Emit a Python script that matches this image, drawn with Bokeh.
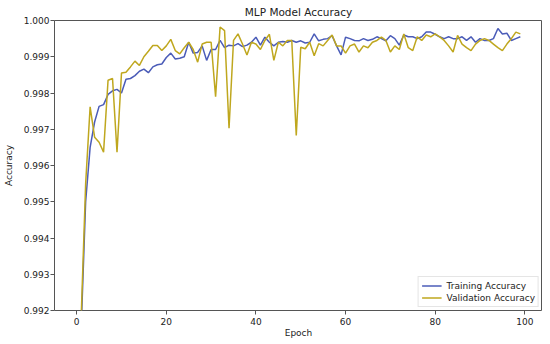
from bokeh.plotting import figure
from bokeh.models import Range1d, FixedTicker, NumeralTickFormatter, Legend, LegendItem
from bokeh.embed import file_html
from bokeh.resources import INLINE

epochs = list(range(100))

train_acc = [
    0.9850, 0.9915, 0.9950, 0.9965, 0.9972, 0.99763, 0.99768, 0.99796, 0.99806, 0.99810,
    0.99800, 0.99838, 0.99840, 0.99848, 0.99860, 0.99866, 0.99856, 0.99872, 0.99878, 0.99880,
    0.99898, 0.99910, 0.99894, 0.99896, 0.99900, 0.99940, 0.99910, 0.99912, 0.99930, 0.99890,
    0.99920, 0.99920, 0.99945, 0.99925, 0.99932, 0.99930, 0.99936, 0.99928, 0.99932, 0.99940,
    0.99954, 0.99932, 0.99954, 0.99940, 0.99930, 0.99940, 0.99942, 0.99940, 0.99945, 0.99940,
    0.99944, 0.99938, 0.99940, 0.99963, 0.99944, 0.99948, 0.99950, 0.99958, 0.99930, 0.99905,
    0.99954, 0.99950, 0.99945, 0.99944, 0.99950, 0.99945, 0.99948, 0.99955, 0.99950, 0.99944,
    0.99958, 0.99950, 0.99932, 0.99960, 0.99955, 0.99955, 0.99950, 0.99955, 0.99968, 0.99968,
    0.99962, 0.99955, 0.99950, 0.99955, 0.99950, 0.99950, 0.99955, 0.99945, 0.99955, 0.99940,
    0.99950, 0.99945, 0.99945, 0.99950, 0.99978, 0.99963, 0.99965, 0.99945, 0.99950, 0.99955,
]

val_acc = [
    0.9840, 0.9918, 0.9955, 0.99762, 0.99678, 0.99664, 0.99637, 0.99835, 0.99840, 0.99637,
    0.99855, 0.99857, 0.99872, 0.99888, 0.99876, 0.99900, 0.99915, 0.99931, 0.99931, 0.99917,
    0.99930, 0.99948, 0.99917, 0.99908, 0.99925, 0.99940, 0.99920, 0.99885, 0.99935, 0.99940,
    0.99940, 0.99790, 0.99982, 0.99972, 0.99703, 0.99945, 0.99963, 0.99935, 0.99905, 0.99940,
    0.99935, 0.99920, 0.99945, 0.99962, 0.99890, 0.99940, 0.99930, 0.99945, 0.99945, 0.99683,
    0.99926, 0.99922, 0.99940, 0.99903, 0.99936, 0.99930, 0.99945, 0.99960, 0.99930, 0.99930,
    0.99910, 0.99930, 0.99935, 0.99913, 0.99930, 0.99925, 0.99940, 0.99945, 0.99954, 0.99945,
    0.99913, 0.99930, 0.99920, 0.99963, 0.99925, 0.99917, 0.99955, 0.99945, 0.99960, 0.99955,
    0.99963, 0.99955, 0.99945, 0.99930, 0.99913, 0.99959, 0.99935, 0.99925, 0.99917, 0.99935,
    0.99945, 0.99950, 0.99945, 0.99935, 0.99925, 0.99917, 0.99935, 0.99950, 0.99968, 0.99963,
]

x_ticks = [0, 20, 40, 60, 80, 100]
y_ticks = [0.992, 0.993, 0.994, 0.995, 0.996, 0.997, 0.998, 0.999, 1.000]

FONT = "DejaVu Sans"
AXC = "#555555"

p = figure(frame_width=488, frame_height=290, output_backend="svg", toolbar_location=None,
           x_range=Range1d(-4.95, 103.95), y_range=Range1d(0.992, 1.000),
           min_border_left=53, min_border_right=0, min_border_top=12, min_border_bottom=0,
           title="MLP Model Accuracy")

p.title.text_font = FONT
p.title.text_font_size = "10.5px"
p.title.text_font_style = "normal"
p.title.align = "center"
p.title.text_color = "#222222"
p.title.standoff = 6

p.xgrid.visible = False
p.ygrid.visible = False
p.outline_line_color = AXC
p.outline_line_width = 1

for ax in (p.xaxis[0], p.yaxis[0]):
    ax.axis_line_color = None
    ax.major_tick_line_color = AXC
    ax.minor_tick_line_color = None
    ax.major_tick_in = 0
    ax.major_tick_out = 4
    ax.major_label_text_font = FONT
    ax.major_label_text_font_size = "9px"
    ax.major_label_text_color = "#222222"
    ax.axis_label_text_font = FONT
    ax.axis_label_text_font_size = "9px"
    ax.axis_label_text_font_style = "normal"
    ax.axis_label_text_color = "#222222"

p.xaxis.major_label_standoff = 3
p.xaxis.axis_label_standoff = 0
p.yaxis.major_label_standoff = 1
p.yaxis.axis_label_standoff = 7

p.xaxis.ticker = FixedTicker(ticks=x_ticks)
p.yaxis.ticker = FixedTicker(ticks=y_ticks)
p.yaxis.formatter = NumeralTickFormatter(format="0.000")
p.xaxis.axis_label = "Epoch"
p.yaxis.axis_label = "Accuracy"

r1 = p.line(epochs, train_acc, line_color="#4b5cb8", line_width=1.5)
r2 = p.line(epochs, val_acc, line_color="#bfa71e", line_width=1.5)

legend = Legend(items=[LegendItem(label="Training Accuracy", renderers=[r1]),
                       LegendItem(label="Validation Accuracy", renderers=[r2])],
                location="bottom_right")
legend.label_text_font = FONT
legend.label_text_font_size = "9px"
legend.label_text_color = "#222222"
legend.glyph_width = 20
legend.glyph_height = 11
legend.label_height = 11
legend.spacing = 1
legend.padding = 3
legend.margin = 3
legend.label_standoff = 5
legend.border_line_color = "#cccccc"
legend.background_fill_alpha = 0.8
p.add_layout(legend)

open("out.html", "w").write(file_html(p, INLINE))
